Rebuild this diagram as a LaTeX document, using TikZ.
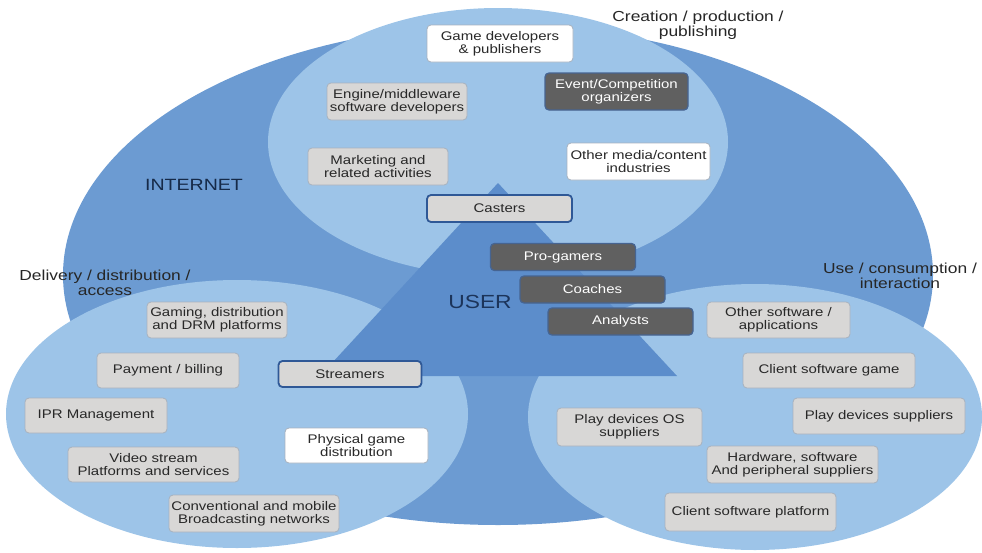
\documentclass[tikz,border=0pt]{standalone}
\usepackage{fontspec}
\setmainfont{Liberation Sans}[FakeStretch=1.2]

\definecolor{bigblue}{RGB}{108,155,210}
\definecolor{lightblue}{RGB}{157,196,232}
\definecolor{userblue}{RGB}{92,141,203}
\definecolor{boxgray}{RGB}{216,215,214}
\definecolor{boxedge}{RGB}{168,178,190}
\definecolor{boxdark}{RGB}{96,96,96}
\definecolor{darkedge}{RGB}{70,100,145}
\definecolor{roleedge}{RGB}{47,88,150}
\definecolor{boxtext}{RGB}{40,40,40}
\definecolor{titletext}{RGB}{38,38,38}
\definecolor{navy}{RGB}{28,52,90}

\newcommand\boxfont{\fontsize{12.5}{13}\selectfont}
\newcommand\titlefont{\fontsize{14.5}{15.5}\selectfont}

\tikzset{
  box/.style={rounded corners=4pt, minimum height=37pt, inner sep=0pt,
    align=center, font=\boxfont, text=boxtext, line width=0.8pt},
  graybox/.style={box, fill=boxgray, draw=boxedge},
  whitebox/.style={box, fill=white, draw=boxedge},
  darkbox/.style={box, fill=boxdark, draw=darkedge, line width=1.3pt, text=white},
  rolebox/.style={box, fill=boxgray, draw=roleedge, line width=1.8pt, minimum height=27pt},
  title/.style={align=center, font=\titlefont, text=titletext, inner sep=0pt},
}

\begin{document}
\begin{tikzpicture}[x=1pt,y=-1pt]
\useasboundingbox (0,0) rectangle (982,552);

% value-chain areas
\fill[bigblue] (498,275) ellipse [x radius=435pt, y radius=250pt];
\fill[lightblue] (498,142) ellipse [x radius=230pt, y radius=134pt];
\fill[lightblue] (237,414) ellipse [x radius=231pt, y radius=134pt];
\fill[lightblue] (755,417) ellipse [x radius=227pt, y radius=133pt];
\fill[userblue] (498,183) -- (677,376) -- (320,376) -- cycle;

% area labels
\node[title] (creation) at (698,25) {Creation / production /\\publishing};
\node[title] (delivery) at (105,283) {Delivery / distribution /\\access};
\node[title] (use) at (900,276) {Use / consumption /\\interaction};
\node[font=\fontsize{16.3}{18}\selectfont, text=navy!80!black, inner sep=0pt] (internet) at (194,185) {INTERNET};
\node[font=\fontsize{19}{21}\selectfont, text=navy, inner sep=0pt] (user) at (480,302) {USER};

% creation / production / publishing
\node[whitebox, minimum width=146pt] (gamedev) at (500,43.5) {Game developers\\\& publishers};
\node[darkbox, minimum width=143pt] (event) at (616.5,91.5) {Event/Competition\\organizers};
\node[graybox, minimum width=140pt] (engine) at (397,101.5) {Engine/middleware\\software developers};
\node[graybox, minimum width=140pt] (marketing) at (378,166.5) {Marketing and\\related activities};
\node[whitebox, minimum width=143pt] (othermedia) at (638.5,161.5) {Other media/content\\industries};
\node[rolebox, minimum width=145pt] (casters) at (499.5,208.5) {Casters};

% user roles
\node[darkbox, minimum width=145pt, minimum height=27pt] (progamers) at (563,257) {Pro-gamers};
\node[darkbox, minimum width=145pt, minimum height=27pt] (coaches) at (592.5,289.5) {Coaches};
\node[darkbox, minimum width=145pt, minimum height=27pt] (analysts) at (620.5,321.5) {Analysts};
\node[rolebox, minimum width=143pt, minimum height=26pt] (streamers) at (350,374) {Streamers};

% delivery / distribution / access
\node[graybox, minimum width=140pt, minimum height=36pt] (gaming) at (217,320) {Gaming, distribution\\and DRM platforms};
\node[graybox, minimum width=142pt, minimum height=35pt] (payment) at (168,370.5) {Payment / billing};
\node[graybox, minimum width=142pt, minimum height=35pt] (ipr) at (96,415.5) {IPR Management};
\node[graybox, minimum width=171pt, minimum height=35pt] (video) at (153.5,464.5) {Video stream\\Platforms and services};
\node[graybox, minimum width=170pt] (conventional) at (254,513.5) {Conventional and mobile\\Broadcasting networks};
\node[whitebox, minimum width=143pt, minimum height=35pt] (physical) at (356.5,445.5) {Physical game\\distribution};

% use / consumption / interaction
\node[graybox, minimum width=143pt, minimum height=36pt] (othersoft) at (778.5,320) {Other software /\\applications};
\node[graybox, minimum width=172pt, minimum height=35pt] (clientgame) at (829,370.5) {Client software game};
\node[graybox, minimum width=172pt, minimum height=36pt] (playsup) at (879,416) {Play devices suppliers};
\node[graybox, minimum width=145pt, minimum height=38pt] (playos) at (629.5,427) {Play devices OS\\suppliers};
\node[graybox, minimum width=171pt] (hardware) at (792.5,464.5) {Hardware, software\\And peripheral suppliers};
\node[graybox, minimum width=171pt, minimum height=38pt] (clientplat) at (750.5,512) {Client software platform};
\end{tikzpicture}
\end{document}
